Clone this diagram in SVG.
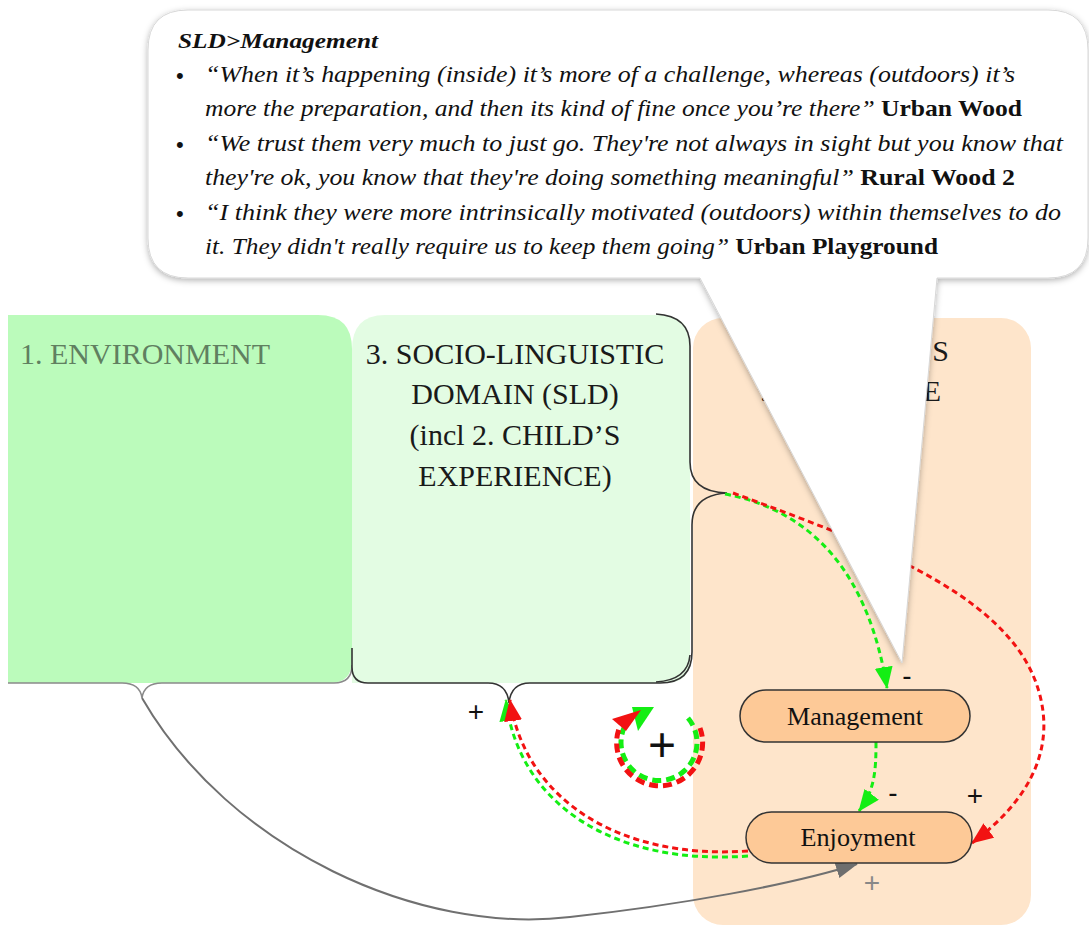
<svg xmlns="http://www.w3.org/2000/svg" width="1089" height="925" viewBox="0 0 1089 925">
  <defs>
    <style>
      .serif { font-family: "Liberation Serif", "Times New Roman", serif; }
      .head { font-family: "Liberation Serif", serif; font-size: 30px; fill: #1a1a1a; }
      .node-rect { fill: #fdc997; stroke: #333; stroke-width: 1.5; }
      .node-text { font-family: "Liberation Serif", serif; font-size: 25px; fill: #111; text-anchor: middle; }
      .q { font-family: "Liberation Serif", serif; font-size: 24px; font-style: italic; fill: #111; }
      .src { font-style: normal; font-weight: bold; }
      .bul { font-family: "Liberation Sans", sans-serif; font-size: 22px; fill: #111; }
      .dash-g { fill: none; stroke: #14ee14; stroke-width: 3; stroke-dasharray: 6 4; }
      .dash-r { fill: none; stroke: #f21212; stroke-width: 3; stroke-dasharray: 6 4; }
      .brace { fill: none; stroke: #333; stroke-width: 1.6; }
      .sign { font-family: "Liberation Sans", sans-serif; font-size: 28px; fill: #111; text-anchor: middle; }
    </style>
    <marker id="ahG" markerUnits="userSpaceOnUse" viewBox="0 0 22 18" refX="21" refY="9" markerWidth="22" markerHeight="18" orient="auto">
      <path d="M0,0 L22,9 L0,18 Z" fill="#14ee14"/>
    </marker>
    <marker id="ahR" markerUnits="userSpaceOnUse" viewBox="0 0 22 18" refX="21" refY="9" markerWidth="22" markerHeight="18" orient="auto">
      <path d="M0,0 L22,9 L0,18 Z" fill="#f21212"/>
    </marker>
    <marker id="ahGrey" markerUnits="userSpaceOnUse" viewBox="0 0 22 16" refX="21" refY="8" markerWidth="22" markerHeight="16" orient="auto">
      <path d="M0,0 L22,8 L0,16 Z" fill="#6e6e6e"/>
    </marker>
    <filter id="shadow" x="-5%" y="-5%" width="110%" height="115%">
      <feDropShadow dx="0" dy="2" stdDeviation="3" flood-color="#000" flood-opacity="0.3"/>
    </filter>
  </defs>

  <rect width="1089" height="925" fill="#ffffff"/>

  <!-- domain panels -->
  <g id="child-panel">
    <rect x="693" y="318" width="338" height="607" rx="30" fill="#fee5cb"/>
    <text class="head" x="949" y="361" text-anchor="end">’S</text>
    <text class="head" x="941" y="401" text-anchor="end">E</text>
    <text class="head" x="760" y="401">.</text>
  </g>

  <g id="environment">
    <path d="M8,315 H318 Q352,315 352,349 V660 Q352,683 330,683 H8 Z" fill="#bbfbbb"/>
    <text class="head" x="20" y="364" style="fill:#607f60">1. ENVIRONMENT</text>
    <path d="M8,683 H122 Q140,683 142,698 Q144,683 162,683 H334 Q352,683 352,665" fill="none" stroke="#8a8a8a" stroke-width="1.6"/>
  </g>

  <g id="sld">
    <path d="M385,315 H660 Q690,315 690,345 V660 Q690,683 665,683 H352 V350 Q352,315 385,315 Z" fill="#e3fce3"/>
    <text class="head" text-anchor="middle" x="515" y="364">3. SOCIO-LINGUISTIC</text>
    <text class="head" text-anchor="middle" x="515" y="404">DOMAIN (SLD)</text>
    <text class="head" text-anchor="middle" x="515" y="445">(incl 2. CHILD’S</text>
    <text class="head" text-anchor="middle" x="515" y="486">EXPERIENCE)</text>
    <!-- right-hand brace -->
    <path class="brace" d="M656,314 Q690,316 690,346 V462 Q690,492 727,493 Q692,495 692,525 V652 Q692,683 660,683"/>
    <path class="brace" d="M656,682 Q688,680 690,655"/>
    <!-- bottom brace -->
    <path class="brace" d="M660,683 H530 Q511,683 509,703 Q507,683 488,683 H368 Q352,683 352,667 V648"/>
  </g>

  <!-- connectors -->
  <g id="connectors">
    <path d="M142,698 C230,850 420,935 570,917 C680,905 790,885 857,864" fill="none" stroke="#707070" stroke-width="2" marker-end="url(#ahGrey)"/>
    <path class="dash-g" d="M725,494 Q860,520 887,688" marker-end="url(#ahG)"/>
    <path class="dash-r" d="M733,493 C860,540 1000,590 1035,680 C1060,745 1030,800 972,843" marker-end="url(#ahR)"/>
    <path class="dash-g" d="M876,742 C876,770 875,790 859,811" marker-end="url(#ahG)"/>
    <path class="dash-g" d="M748,856 C615,866 518,805 506,700" marker-end="url(#ahG)"/>
    <path class="dash-r" d="M748,851 C620,860 525,800 510,700" marker-end="url(#ahR)"/>
  </g>

  <!-- reinforcing loop symbol -->
  <g id="loop">
    <path d="M688,718 A38,38 0 1 1 630,718" fill="none" stroke="#14ee14" stroke-width="5" stroke-dasharray="9 5"/>
    <path d="M700,728 A43,43 0 1 1 622,722" fill="none" stroke="#f21212" stroke-width="5" stroke-dasharray="9 5"/>
    <polygon points="654,707 632,707 638,731" fill="#14ee14"/>
    <polygon points="641,710 612,719 626,731" fill="#f21212"/>
    <text class="sign" x="662" y="761" style="font-size:48px">+</text>
  </g>

  <g id="management">
    <rect class="node-rect" x="740" y="690" width="230" height="52" rx="26"/>
    <text class="node-text" x="855" y="725" textLength="136" lengthAdjust="spacingAndGlyphs">Management</text>
  </g>

  <g id="enjoyment">
    <rect class="node-rect" x="746" y="812" width="226" height="51" rx="25.5"/>
    <text class="node-text" x="858" y="846" textLength="115" lengthAdjust="spacingAndGlyphs">Enjoyment</text>
  </g>

  <!-- polarity labels -->
  <g id="labels">
    <text class="sign" x="476" y="721">+</text>
    <text class="sign" x="907" y="685">-</text>
    <text class="sign" x="893" y="802">-</text>
    <text class="sign" x="975" y="805">+</text>
    <text class="sign" x="872" y="892" style="fill:#888">+</text>
  </g>

  <!-- quotation callout -->
  <g id="callout">
    <path d="M188,10 H1048 Q1088,10 1088,50 V238 Q1088,278 1048,278 H937 L902,663 L700,278 H188 Q148,278 148,238 V50 Q148,10 188,10 Z" fill="#ffffff" stroke="#d8d8d8" stroke-width="1" filter="url(#shadow)"/>
    <text class="q" x="178" y="48" style="font-weight:bold;font-size:22px" textLength="200" lengthAdjust="spacingAndGlyphs">SLD&gt;Management</text>
    <text class="bul" x="176" y="83">•</text>
    <text class="bul" x="176" y="152">•</text>
    <text class="bul" x="176" y="221">•</text>
    <text class="q" x="205" y="82" textLength="810" lengthAdjust="spacingAndGlyphs">“When it’s happening (inside) it’s more of a challenge, whereas (outdoors) it’s</text>
    <text class="q" x="205" y="116" textLength="817" lengthAdjust="spacingAndGlyphs">more the preparation, and then its kind of fine once you’re there” <tspan class="src">Urban Wood</tspan></text>
    <text class="q" x="205" y="151" textLength="858" lengthAdjust="spacingAndGlyphs">“We trust them very much to just go. They're not always in sight but you know that</text>
    <text class="q" x="205" y="185" textLength="810" lengthAdjust="spacingAndGlyphs">they're ok, you know that they're doing something meaningful” <tspan class="src">Rural Wood 2</tspan></text>
    <text class="q" x="205" y="220" textLength="856" lengthAdjust="spacingAndGlyphs">“I think they were more intrinsically motivated (outdoors) within themselves to do</text>
    <text class="q" x="205" y="254" textLength="733" lengthAdjust="spacingAndGlyphs">it. They didn't really require us to keep them going” <tspan class="src">Urban Playground</tspan></text>
  </g>
</svg>
